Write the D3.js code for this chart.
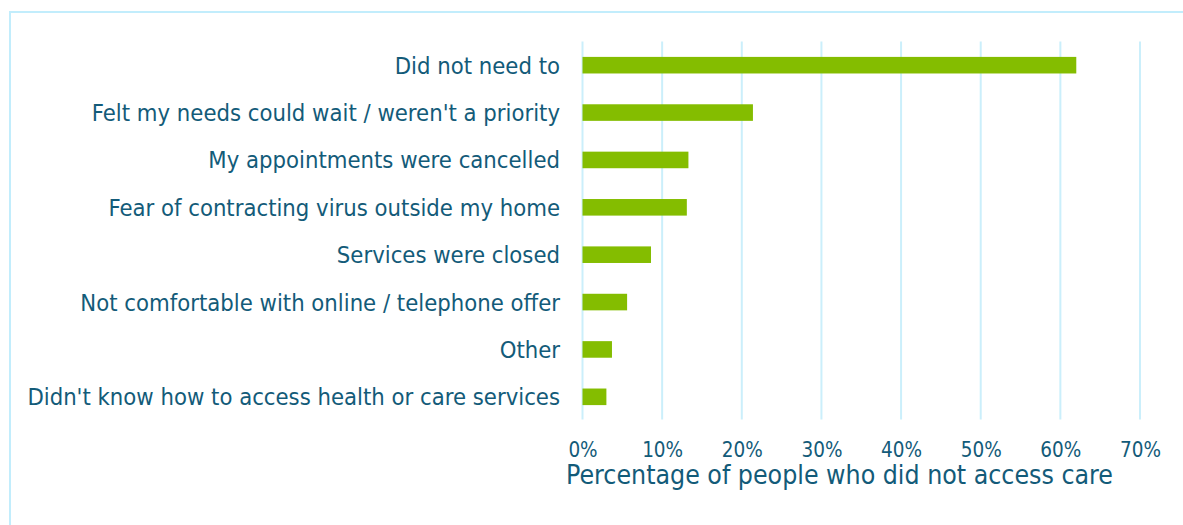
<!DOCTYPE html>
<html>
<head>
<meta charset="utf-8">
<script src="https://cdn.jsdelivr.net/npm/d3@7"></script>
<style>
  html, body { margin: 0; padding: 0; background: #ffffff; }
  svg { display: block; }
  text { font-family: "DejaVu Sans Condensed", "DejaVu Sans", sans-serif; fill: #135B79; }
</style>
</head>
<body>
<svg id="chart" width="1183" height="525"></svg>
<script>
// Reasons given for not accessing health or care services
const categories = [
  "Did not need to",
  "Felt my needs could wait / weren't a priority",
  "My appointments were cancelled",
  "Fear of contracting virus outside my home",
  "Services were closed",
  "Not comfortable with online / telephone offer",
  "Other",
  "Didn't know how to access health or care services"
];
const values = [62.0, 21.4, 13.3, 13.1, 8.6, 5.6, 3.7, 3.0];
const tickValues = [0, 10, 20, 30, 40, 50, 60, 70];
const axisTitle = "Percentage of people who did not access care";

const svg = d3.select("#chart");

// Light blue frame
svg.append("rect")
  .attr("x", 10).attr("y", 12)
  .attr("width", 1300).attr("height", 700)
  .attr("fill", "none")
  .attr("stroke", "#C2EDFC")
  .attr("stroke-width", 2);

const x = d3.scaleLinear().domain([0, 70]).range([582.5, 1140]);
const y = d3.scaleBand()
  .domain(categories)
  .range([41.5, 420.5])
  .paddingInner(0.65)
  .paddingOuter(0.325);

// Vertical gridlines
svg.append("g")
  .selectAll("line")
  .data(tickValues)
  .join("line")
  .attr("x1", d => x(d)).attr("x2", d => x(d))
  .attr("y1", 41.5).attr("y2", 419.5)
  .attr("stroke", "#CBEFFB")
  .attr("stroke-width", 2);

// Bars
svg.append("g")
  .selectAll("rect")
  .data(values)
  .join("rect")
  .attr("x", x(0))
  .attr("y", (d, i) => y(categories[i]))
  .attr("width", d => x(d) - x(0))
  .attr("height", y.bandwidth())
  .attr("fill", "#84BD00");

// Category labels
const labels = svg.append("g")
  .selectAll("text")
  .data(categories)
  .join("text")
  .attr("x", 560)
  .attr("y", d => y(d) + y.bandwidth() / 2)
  .attr("dy", "0.36em")
  .attr("text-anchor", "end")
  .style("font-size", "22px")
  .text(d => d);

// Fit label size so the longest label spans its available width
let maxW = 0;
labels.each(function() { maxW = Math.max(maxW, this.getComputedTextLength()); });
if (maxW > 0) labels.style("font-size", (22 * 533 / maxW).toFixed(2) + "px");

// Axis tick labels
const xAxis = d3.axisBottom(x)
  .tickValues(tickValues)
  .tickFormat(d => d + "%")
  .tickSize(0)
  .tickPadding(0);

const axisG = svg.append("g")
  .attr("transform", "translate(0,457)")
  .call(xAxis);
axisG.select(".domain").remove();
axisG.selectAll("text")
  .attr("y", 0)
  .attr("dy", "0")
  .style("font-size", "20.5px")
  .style("font-family", "\"DejaVu Sans Condensed\", \"DejaVu Sans\", sans-serif")
  .attr("fill", "#135B79");

// Axis title
const title = svg.append("text")
  .attr("x", 839.5)
  .attr("y", 484)
  .attr("text-anchor", "middle")
  .style("font-size", "26px")
  .text(axisTitle);
const tw = title.node().getComputedTextLength();
if (tw > 0) title.style("font-size", (26 * 547 / tw).toFixed(2) + "px");
</script>
</body>
</html>
